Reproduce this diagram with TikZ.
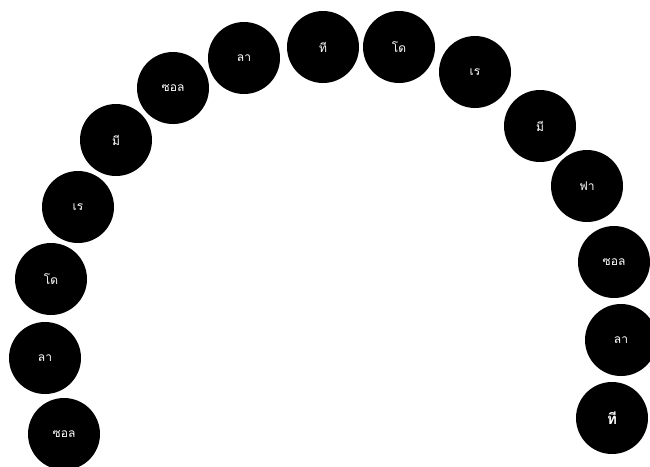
\documentclass[tikz,border=0pt]{standalone}
\usepackage{fontspec}
\newfontfamily\thaifont[Script=Thai]{Loma}
\usetikzlibrary{positioning}
\tikzset{
  note/.style={circle,fill=black,draw=none,minimum size=72pt,inner sep=0pt,text=white,font=\thaifont\fontsize{12}{14}\selectfont},
  bignote/.style={note,font=\thaifont\bfseries\fontsize{15}{17}\selectfont},
}
\begin{document}
\begin{tikzpicture}[x=1pt,y=-1pt]
\useasboundingbox (0,0) rectangle (650,466);
% left arm, bottom to top
\node[note] (sol1) at (64,434) {ซอล};
\node[note] (la1) at (45,358) {ลา};
\node[note] (do1) at (51,279) {โด};
\node[note] (re1) at (78,207) {เร};
\node[note] (mi1) at (116,140) {มี};
\node[note] (sol2) at (173,88) {ซอล};
\node[note] (la2) at (244,58) {ลา};
% top
\node[note] (ti1) at (323,47) {ที};
\node[note] (do2) at (399,47) {โด};
% right arm, top to bottom
\node[note] (re2) at (475,72) {เร};
\node[note] (mi2) at (540,126) {มี};
\node[note] (fa1) at (587,186) {ฟา};
\node[note] (sol3) at (614,262) {ซอล};
\node[note] (la3) at (621,340) {ลา};
\node[bignote] (ti2) at (612,418) {ที};
\end{tikzpicture}
\end{document}
